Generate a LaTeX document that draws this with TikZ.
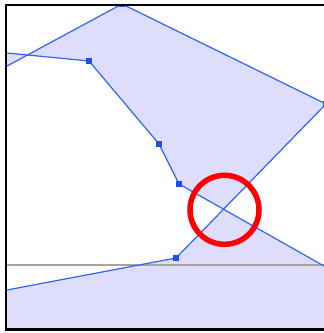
\documentclass[tikz,border=0pt]{standalone}
\usepackage{tikz}
\usetikzlibrary{calc}
\definecolor{lavender}{RGB}{222,222,252}
\definecolor{edgeblue}{RGB}{48,100,245}
\definecolor{markblue}{RGB}{28,78,240}
\definecolor{rulegray}{RGB}{168,162,160}

\begin{document}
\begin{tikzpicture}[x=1pt,y=-1pt]
\pgfmathsetmacro{\wi}{324}
\pgfmathsetmacro{\he}{333}
\pgfmathsetmacro{\fl}{6}
\pgfmathsetmacro{\ft}{5}
\pgfmathsetmacro{\fb}{329.5}

\tikzset{vtx/.style={rectangle,fill=markblue,inner sep=0pt,minimum size=6pt}}
\tikzset{edge/.style={edgeblue,line width=1.2pt,line join=round}}

\useasboundingbox (0,0) rectangle (\wi,\he);
\fill[white] (0,0) rectangle (\wi,\he);

\coordinate (e) at (-30,49.4);
\coordinate (f) at (89,61);
\coordinate (g) at (159,144);
\coordinate (h) at (179,184);
\coordinate (i) at (360,286.4);
\coordinate (k) at (-30,297);
\coordinate (c) at (176,258);
\coordinate (b) at (326,104);
\coordinate (a) at (122,4);
\coordinate (j) at (-30,86);

\begin{scope}
\clip (\fl,\ft) rectangle (\wi,\fb);
\fill[lavender,even odd rule]
(e)--(f)--(g)--(h)--(i)--(360,400)--(-60,400)--(k)--(c)--(b)--(a)--(j)--cycle;
\draw[rulegray,line width=1.2pt] (0,265)--(\wi,265);
\draw[edge] (e)--(f)--(g)--(h)--(i);
\draw[edge] (k)--(c)--(b)--(a)--(j);
\node[vtx] (mf) at (f) {};
\node[vtx] (mg) at (g) {};
\node[vtx] (mh) at (h) {};
\node[vtx] (mc) at (c) {};
\node[vtx] (mb) at (b) {};
\node[vtx] (ma) at (a) {};
\end{scope}

\draw[red,line width=5.5pt] (224.5,209.8) circle (34.5);

\draw[line width=2.6pt] (\wi,\ft)--(\fl,\ft)--(\fl,\fb)--(\wi,\fb);
\end{tikzpicture}
\end{document}
